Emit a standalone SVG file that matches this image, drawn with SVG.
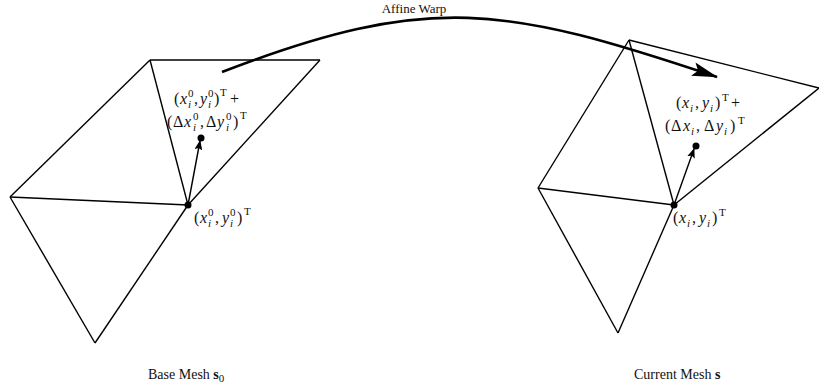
<svg xmlns="http://www.w3.org/2000/svg" width="819" height="388" viewBox="0 0 819 388">
<defs>
<marker id="ah" markerWidth="10" markerHeight="8" refX="9" refY="4" orient="auto" markerUnits="userSpaceOnUse"><path d="M0,0 L10,4 L0,8 L2,4 Z" fill="#000"/></marker>
<marker id="bigah" markerWidth="26" markerHeight="14" refX="25" refY="7" orient="auto" markerUnits="userSpaceOnUse"><path d="M0,0 L26,7 L0,14 L5,7 Z" fill="#000"/></marker>
<style>
.e{stroke:#000;stroke-width:1.4;fill:none}
.t{font-family:"Liberation Serif","Times New Roman",serif;font-size:14px;fill:#111}
.m{font-family:"Liberation Serif","Times New Roman",serif;font-size:16px;fill:#111}
.i{font-style:italic}
.s{font-size:11px}
</style>
</defs>
<rect width="819" height="388" fill="#fff"/>
<g id="connectors">
<g id="base-mesh-edges">
<line class="e" x1="10" y1="197" x2="150" y2="60"/>
<line class="e" x1="150" y1="60" x2="320" y2="60"/>
<line class="e" x1="320" y1="60" x2="188" y2="205"/>
<line class="e" x1="150" y1="60" x2="188" y2="205"/>
<line class="e" x1="10" y1="197" x2="188" y2="205"/>
<line class="e" x1="10" y1="197" x2="95" y2="343"/>
<line class="e" x1="95" y1="343" x2="188" y2="205"/>
<line class="e" x1="188" y1="205" x2="200" y2="141" marker-end="url(#ah)"/>
</g>
<g id="current-mesh-edges">
<line class="e" x1="538" y1="188" x2="629" y2="40"/>
<line class="e" x1="629" y1="40" x2="819" y2="88"/>
<line class="e" x1="819" y1="88" x2="674" y2="205"/>
<line class="e" x1="629" y1="40" x2="674" y2="205"/>
<line class="e" x1="538" y1="188" x2="674" y2="205"/>
<line class="e" x1="538" y1="188" x2="618" y2="333"/>
<line class="e" x1="618" y1="333" x2="674" y2="205"/>
<line class="e" x1="674" y1="205" x2="694" y2="149" marker-end="url(#ah)"/>
</g>
<path id="warp" d="M222,72 C430,-8 505,6 717,77" stroke="#000" stroke-width="2.6" fill="none" marker-end="url(#bigah)"/>
</g>
<g id="vertex-base"><circle cx="188" cy="205" r="3.5" fill="#000"/></g>
<g id="point-base"><circle cx="201" cy="138" r="3.5" fill="#000"/></g>
<g id="vertex-current"><circle cx="674" cy="205" r="3.5" fill="#000"/></g>
<g id="point-current"><circle cx="696" cy="146" r="3.5" fill="#000"/></g>
<g id="label-warp"><text class="t" x="414" y="13" text-anchor="middle" style="font-size:13px">Affine Warp</text></g>
<g id="label-base"><text class="t" x="148" y="379">Base Mesh <tspan font-weight="bold">s</tspan><tspan class="s" dy="3">0</tspan></text></g>
<g id="label-current"><text class="t" x="634" y="379">Current Mesh <tspan font-weight="bold">s</tspan></text></g>
<g id="label-base-upper">
<text class="m" y="104"><tspan x="174">(</tspan><tspan class="i" x="180">x</tspan><tspan class="s" x="188" y="97">0</tspan><tspan class="s i" x="188" y="108">i</tspan><tspan x="194" y="104">,</tspan><tspan class="i" x="200">y</tspan><tspan class="s" x="208" y="97">0</tspan><tspan class="s i" x="208" y="108">i</tspan><tspan x="214" y="104">)</tspan><tspan class="s" x="220" y="96">T</tspan><tspan x="230" y="104">+</tspan></text>
<text class="m" y="127"><tspan x="167">(</tspan><tspan x="173">Δ</tspan><tspan class="i" x="184">x</tspan><tspan class="s" x="193" y="120">0</tspan><tspan class="s i" x="193" y="131">i</tspan><tspan x="200" y="127">,</tspan><tspan x="206">Δ</tspan><tspan class="i" x="217">y</tspan><tspan class="s" x="226" y="120">0</tspan><tspan class="s i" x="226" y="131">i</tspan><tspan x="233" y="127">)</tspan><tspan class="s" x="240" y="119">T</tspan></text>
</g>
<g id="label-base-lower">
<text class="m" y="223"><tspan x="194">(</tspan><tspan class="i" x="200">x</tspan><tspan class="s" x="208" y="216">0</tspan><tspan class="s i" x="208" y="227">i</tspan><tspan x="215" y="223">,</tspan><tspan class="i" x="222">y</tspan><tspan class="s" x="230" y="216">0</tspan><tspan class="s i" x="230" y="227">i</tspan><tspan x="237" y="223">)</tspan><tspan class="s" x="244" y="215">T</tspan></text>
</g>
<g id="label-current-upper">
<text class="m" y="108"><tspan x="676">(</tspan><tspan class="i" x="682">x</tspan><tspan class="s i" x="690" y="112">i</tspan><tspan x="695" y="108">,</tspan><tspan class="i" x="702">y</tspan><tspan class="s i" x="710" y="112">i</tspan><tspan x="715" y="108">)</tspan><tspan class="s" x="722" y="101">T</tspan><tspan x="731" y="108">+</tspan></text>
<text class="m" y="131"><tspan x="665">(</tspan><tspan x="671">Δ</tspan><tspan class="i" x="683">x</tspan><tspan class="s i" x="691" y="135">i</tspan><tspan x="696" y="131">,</tspan><tspan x="704">Δ</tspan><tspan class="i" x="716">y</tspan><tspan class="s i" x="724" y="135">i</tspan><tspan x="730" y="131">)</tspan><tspan class="s" x="738" y="124">T</tspan></text>
</g>
<g id="label-current-lower">
<text class="m" y="223"><tspan x="673">(</tspan><tspan class="i" x="679">x</tspan><tspan class="s i" x="687" y="227">i</tspan><tspan x="692" y="223">,</tspan><tspan class="i" x="699">y</tspan><tspan class="s i" x="707" y="227">i</tspan><tspan x="712" y="223">)</tspan><tspan class="s" x="719" y="216">T</tspan></text>
</g>
</svg>
